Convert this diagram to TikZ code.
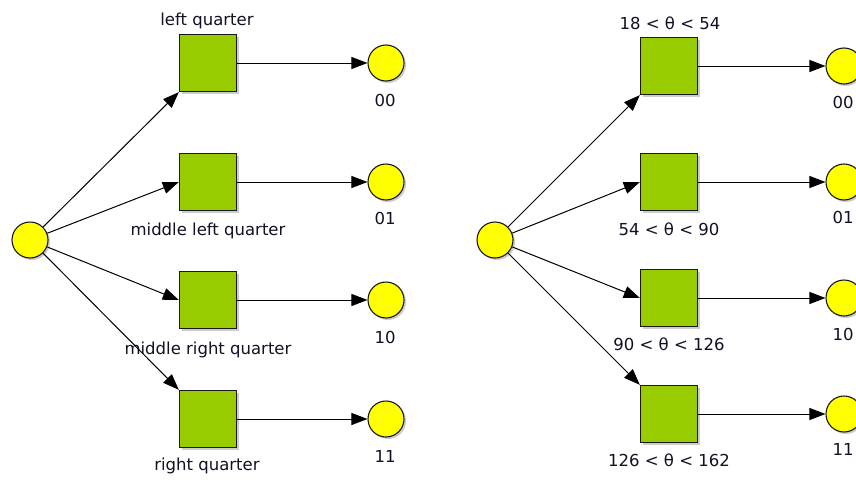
\documentclass[tikz,border=0pt]{standalone}
\usepackage{fontspec}
\setmainfont{DejaVu Sans}
\usetikzlibrary{arrows.meta,shadows}
\definecolor{sqgreen}{RGB}{153,204,0}
\definecolor{cyellow}{RGB}{255,255,0}
\definecolor{txt}{RGB}{20,15,35}
\begin{document}
\begin{tikzpicture}[x=1pt,y=-1pt,
  shad/.style={drop shadow={shadow xshift=2pt,shadow yshift=-2pt,fill=black,opacity=0.2}},
  sq/.style={shad,draw=black!90,line width=1.4pt,fill=sqgreen,minimum size=57pt,inner sep=0pt},
  dot/.style={shad,circle,draw=black!90,line width=1.1pt,fill=cyellow,minimum size=36pt,inner sep=0pt},
  lbl/.style={anchor=base,inner sep=0pt,text=txt,font=\fontsize{16.5pt}{20pt}\selectfont},
  arr/.style={draw=black,line width=1pt,-{Triangle[length=16pt,width=12pt]}}
]
\useasboundingbox (0,0) rectangle (856,479);
\clip (0,0) rectangle (856,479);
% left panel
\node[dot] (L0) at (30,240) {};
\node[sq] (Lq1) at (208,63) {};
\node[sq] (Lq2) at (208,182) {};
\node[sq] (Lq3) at (208,300) {};
\node[sq] (Lq4) at (208,419) {};
\node[dot] (Lc1) at (386,63) {};
\node[dot] (Lc2) at (386,182) {};
\node[dot] (Lc3) at (386,300) {};
\node[dot] (Lc4) at (386,419) {};
\node[lbl] (Ll1) at (207,25) {left quarter};
\node[lbl] (Ll2) at (208,235) {middle left quarter};
\node[lbl] (Ll3) at (208,354) {middle right quarter};
\node[lbl] (Ll4) at (207,470) {right quarter};
\node[lbl] (Ln1) at (385,106) {00};
\node[lbl] (Ln2) at (385,224) {01};
\node[lbl] (Ln3) at (385,343) {10};
\node[lbl] (Ln4) at (385,462) {11};
\draw[arr] (L0) -- (Lq1.south west);
\draw[arr] (L0) -- (Lq2.west);
\draw[arr] (L0) -- (Lq3.west);
\draw[arr] (L0) -- (Lq4.north west);
\draw[arr] (Lq1) -- (Lc1);
\draw[arr] (Lq2) -- (Lc2);
\draw[arr] (Lq3) -- (Lc3);
\draw[arr] (Lq4) -- (Lc4);
% right panel
\node[dot] (R0) at (495,240) {};
\node[sq] (Rq1) at (669,66) {};
\node[sq] (Rq2) at (669,182) {};
\node[sq] (Rq3) at (669,298) {};
\node[sq] (Rq4) at (669,414) {};
\node[dot] (Rc1) at (844,66) {};
\node[dot] (Rc2) at (844,182) {};
\node[dot] (Rc3) at (844,298) {};
\node[dot] (Rc4) at (844,414) {};
\node[lbl] (Rl1) at (670,29) {18 < θ < 54};
\node[lbl] (Rl2) at (669,235) {54 < θ < 90};
\node[lbl] (Rl3) at (669,350) {90 < θ < 126};
\node[lbl] (Rl4) at (669,466) {126 < θ < 162};
\node[lbl] (Rn1) at (843,108) {00};
\node[lbl] (Rn2) at (843,223) {01};
\node[lbl] (Rn3) at (843,340) {10};
\node[lbl] (Rn4) at (843,455) {11};
\draw[arr] (R0) -- (Rq1.south west);
\draw[arr] (R0) -- (Rq2.west);
\draw[arr] (R0) -- (Rq3.west);
\draw[arr] (R0) -- (Rq4.north west);
\draw[arr] (Rq1) -- (Rc1);
\draw[arr] (Rq2) -- (Rc2);
\draw[arr] (Rq3) -- (Rc3);
\draw[arr] (Rq4) -- (Rc4);
\end{tikzpicture}
\end{document}
